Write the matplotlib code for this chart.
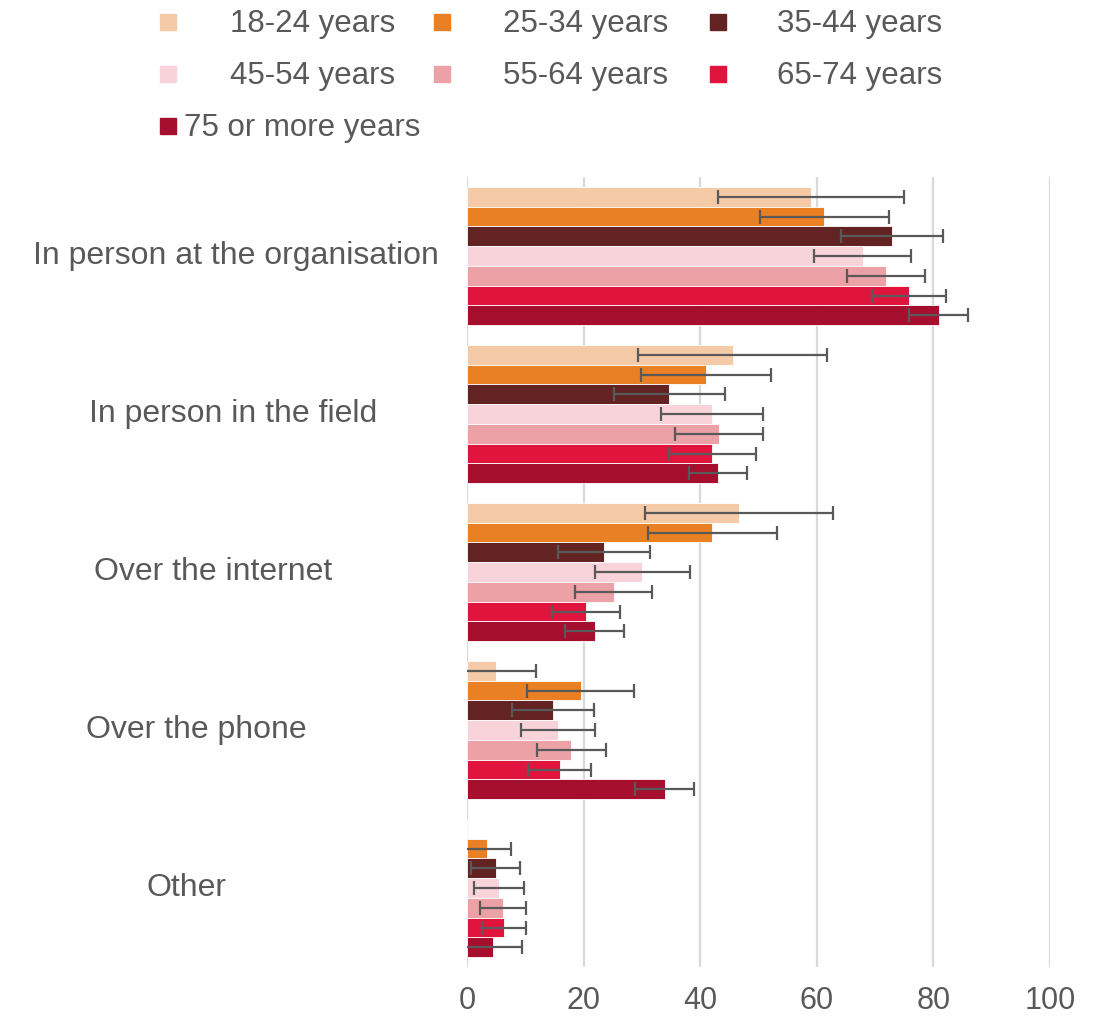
import matplotlib
matplotlib.use("Agg")
import matplotlib.pyplot as plt
import numpy as np
from matplotlib.patches import Rectangle

plt.rcParams['font.family'] = ['Liberation Sans', 'DejaVu Sans']

# 類別（由上到下）
categories = ['In person at the organisation', 'In person in the field',
              'Over the internet', 'Over the phone', 'Other']
age_groups = ['18-24 years', '25-34 years', '35-44 years', '45-54 years',
              '55-64 years', '65-74 years', '75 or more years']
colors = ['#F5CBA7', '#E98024', '#632323', '#F9D3DA', '#EBA1A5', '#E1143E', '#A50E2D']

# 各年齡組的百分比（順序同 categories）
age_18_24 = [59.0, 45.6, 46.6, 5.0, np.nan]
age_25_34 = [61.3, 41.0, 42.1, 19.5, 3.4]
age_35_44 = [72.9, 34.7, 23.5, 14.7, 4.9]
age_45_54 = [67.9, 42.0, 30.1, 15.6, 5.5]
age_55_64 = [71.9, 43.2, 25.2, 17.9, 6.2]
age_65_74 = [75.8, 42.1, 20.4, 15.9, 6.3]
age_75_up = [80.9, 43.1, 21.9, 33.9, 4.4]

# 誤差範圍（半寬）
err_18_24 = [15.9, 16.2, 16.1, 6.9, np.nan]
err_25_34 = [11.1, 11.2, 11.0, 9.2, 4.1]
err_35_44 = [8.8, 9.5, 7.9, 7.0, 4.2]
err_45_54 = [8.3, 8.8, 8.2, 6.3, 4.3]
err_55_64 = [6.7, 7.6, 6.6, 5.9, 3.9]
err_65_74 = [6.3, 7.4, 5.8, 5.4, 3.8]
err_75_up = [5.0, 5.0, 5.1, 5.0, 5.0]

values = [age_18_24, age_25_34, age_35_44, age_45_54, age_55_64, age_65_74, age_75_up]
errors = [err_18_24, err_25_34, err_35_44, err_45_54, err_55_64, err_65_74, err_75_up]

x_ticks = [0, 20, 40, 60, 80, 100]

TEXT = '#595959'
W, H = 1115, 1024

fig = plt.figure(figsize=(W / 100, H / 100), dpi=100)
ax = fig.add_axes([467 / W, 1 - 967 / H, (1050 - 467) / W, (967 - 177) / H])

bar_h = 0.125
y_base = np.arange(len(categories))
for j, (vals, errs) in enumerate(zip(values, errors)):
    y = y_base + (j - 3) * bar_h
    v = np.array(vals, dtype=float)
    e = np.array(errs, dtype=float)
    ax.barh(y, np.nan_to_num(v), height=bar_h, color=colors[j],
            edgecolor='white', linewidth=0.6, zorder=2)
    ok = ~np.isnan(v)
    ax.errorbar(v[ok], y[ok], xerr=e[ok], fmt='none', ecolor=TEXT,
                elinewidth=1.6, capsize=5, capthick=1.6, zorder=3)

ax.set_xlim(0, 100)
ax.set_ylim(len(categories) - 0.5, -0.5)
ax.set_xticks(x_ticks)
ax.set_xticklabels([str(t) for t in x_ticks], fontsize=22, color=TEXT)
ax.tick_params(axis='x', length=0, pad=14)
ax.set_yticks([])
for s in ax.spines.values():
    s.set_visible(False)
ax.grid(axis='x', color='#D9D9D9', linewidth=1.6, zorder=0)
ax.set_axisbelow(True)

# 類別標籤（Excel 式置中）
label_centers = [236, 233, 213, 196, 186]
for i, cat in enumerate(categories):
    yy = ax.transData.transform((0, y_base[i]))[1]
    fig.text(label_centers[i] / W, yy / H, cat, ha='center', va='center',
             fontsize=23, color=TEXT)

# 圖例（手動排版）
sq = 16
legend_pos = [(160, 230, 22), (434, 503, 22), (710, 777, 22),
              (160, 230, 74), (434, 503, 74), (710, 777, 74),
              (160, 184, 126)]
for j, (sx, tx, cy) in enumerate(legend_pos):
    fig.patches.append(Rectangle((sx / W, 1 - (cy + sq / 2) / H), sq / W, sq / H,
                                 transform=fig.transFigure, color=colors[j]))
    fig.text(tx / W, 1 - (cy + 2) / H, age_groups[j], ha='left', va='center',
             fontsize=22.5, color=TEXT)

fig.savefig('out.png', dpi=100)
